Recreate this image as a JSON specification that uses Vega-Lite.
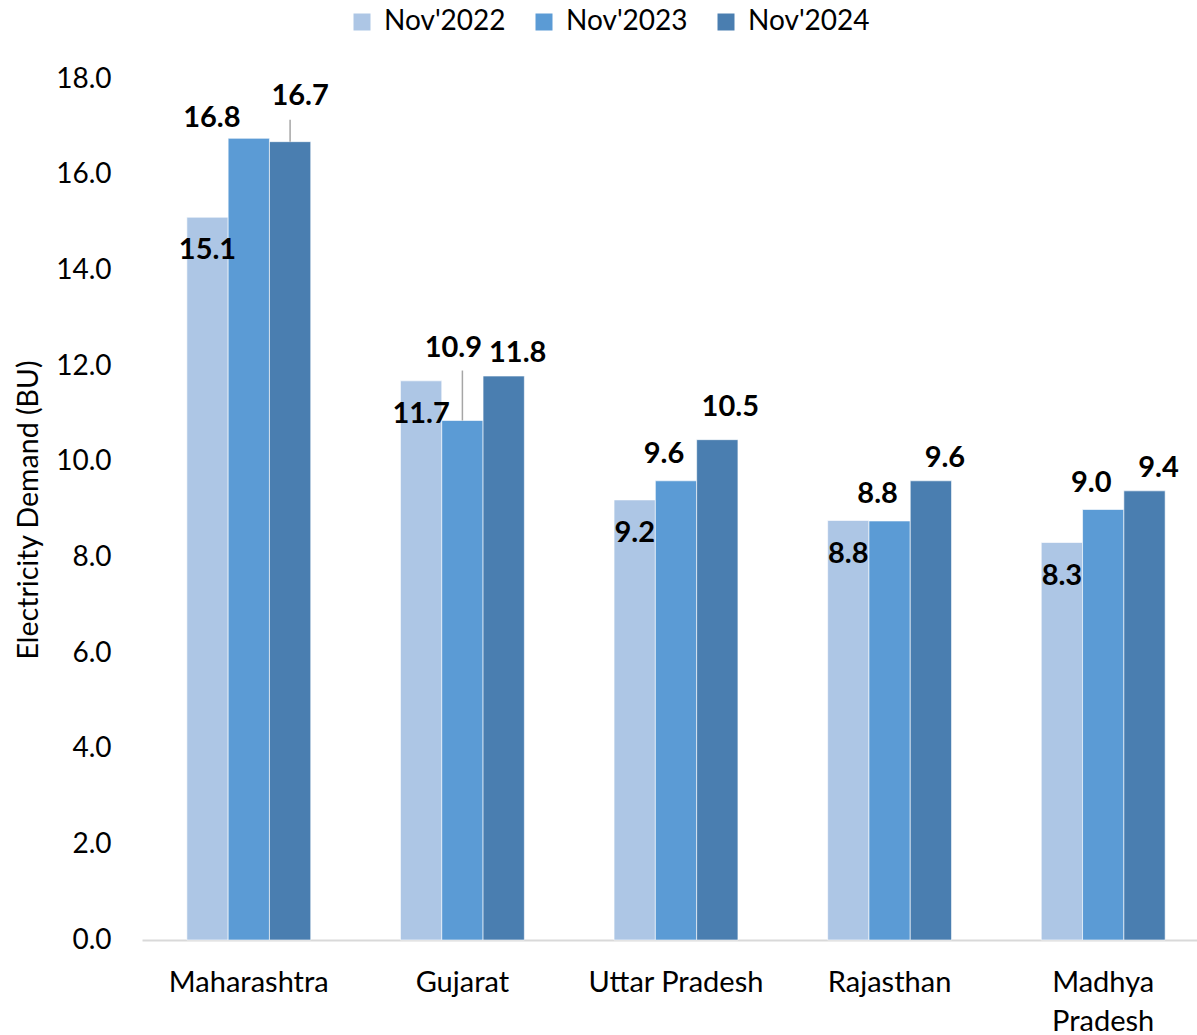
{
  "$schema": "https://vega.github.io/schema/vega-lite/v6.json",
  "autosize": "none",
  "width": 1068,
  "height": 861,
  "padding": {"left": 142, "top": 79, "right": 0, "bottom": 95},
  "background": "white",
  "config": {
    "view": {"stroke": null},
    "font": "Lato",
    "text": {"font": "Lato"}
  },
  "data": {
    "values": [
      {"state": "Maharashtra", "period": "Nov'2022", "demand": 15.11},
      {"state": "Maharashtra", "period": "Nov'2023", "demand": 16.76},
      {"state": "Maharashtra", "period": "Nov'2024", "demand": 16.69},
      {"state": "Gujarat", "period": "Nov'2022", "demand": 11.69},
      {"state": "Gujarat", "period": "Nov'2023", "demand": 10.86},
      {"state": "Gujarat", "period": "Nov'2024", "demand": 11.79},
      {"state": "Uttar Pradesh", "period": "Nov'2022", "demand": 9.2},
      {"state": "Uttar Pradesh", "period": "Nov'2023", "demand": 9.6},
      {"state": "Uttar Pradesh", "period": "Nov'2024", "demand": 10.46},
      {"state": "Rajasthan", "period": "Nov'2022", "demand": 8.77},
      {"state": "Rajasthan", "period": "Nov'2023", "demand": 8.76},
      {"state": "Rajasthan", "period": "Nov'2024", "demand": 9.6},
      {"state": "Madhya Pradesh", "period": "Nov'2022", "demand": 8.31},
      {"state": "Madhya Pradesh", "period": "Nov'2023", "demand": 9.0},
      {"state": "Madhya Pradesh", "period": "Nov'2024", "demand": 9.39}
    ]
  },
  "encoding": {
    "x": {
      "field": "state",
      "type": "nominal",
      "sort": null,
      "scale": {"paddingInner": 0.42, "paddingOuter": 0.21},
      "axis": {
        "title": null,
        "labelAngle": 0,
        "labelFont": "Lato",
        "labelFontSize": 29,
        "labelColor": "#000000",
        "labelPadding": 28,
        "labelLineHeight": 39,
        "labelExpr": "datum.label == 'Madhya Pradesh' ? ['Madhya', 'Pradesh'] : datum.label",
        "ticks": false,
        "domainColor": "#d9d9d9",
        "domainWidth": 2
      }
    },
    "xOffset": {"field": "period", "type": "nominal", "scale": {"paddingInner": 0, "paddingOuter": 0}},
    "y": {
      "field": "demand",
      "type": "quantitative",
      "scale": {"domain": [0, 18], "nice": false},
      "axis": {
        "title": "Electricity Demand (BU)",
        "titleFont": "Lato",
        "titleFontSize": 28.5,
        "titleFontWeight": "normal",
        "titleColor": "#000000",
        "titlePadding": 12,
        "values": [0, 2, 4, 6, 8, 10, 12, 14, 16, 18],
        "format": ".1f",
        "labelFont": "Lato",
        "labelFontSize": 28,
        "labelColor": "#000000",
        "labelPadding": 31,
        "ticks": false,
        "domain": false,
        "grid": false
      }
    }
  },
  "layer": [
    {
      "mark": {"type": "bar", "stroke": "#ffffff", "strokeWidth": 1, "strokeOpacity": 0.6},
      "encoding": {
        "color": {
          "field": "period",
          "type": "nominal",
          "scale": {"domain": ["Nov'2022", "Nov'2023", "Nov'2024"], "range": ["#adc6e5", "#5b9bd5", "#4a7eb0"]},
          "legend": {
            "title": null,
            "orient": "none",
            "direction": "horizontal",
            "legendX": 206,
            "legendY": -71,
            "symbolType": "square",
            "symbolSize": 289,
            "symbolStrokeWidth": 0,
            "labelFont": "Lato",
            "labelFontSize": 28,
            "labelColor": "#000000",
            "labelOffset": 8,
            "columnPadding": 24
          }
        }
      }
    },
    {
      "transform": [{"filter": "datum.state == 'Gujarat' && datum.period == \"Nov'2023\""}],
      "mark": {"type": "rule", "color": "#a6a6a6", "strokeWidth": 1.5, "y2Offset": -50},
      "encoding": {"y2": {"field": "demand"}}
    },
    {
      "transform": [{"filter": "datum.state == 'Maharashtra' && datum.period == \"Nov'2024\""}],
      "mark": {"type": "rule", "color": "#a6a6a6", "strokeWidth": 1.5, "y2Offset": -22},
      "encoding": {"y2": {"field": "demand"}}
    },
    {
      "transform": [{"filter": "datum.period == \"Nov'2022\""}],
      "mark": {"type": "text", "fontWeight": "bold", "fontSize": 29, "color": "#000000", "baseline": "middle", "align": "center", "dy": 33},
      "encoding": {"text": {"field": "demand", "type": "quantitative", "format": ".1f"}}
    },
    {
      "transform": [{"filter": "datum.period == \"Nov'2023\" && datum.state != 'Gujarat' && datum.state != 'Maharashtra'"}],
      "mark": {"type": "text", "fontWeight": "bold", "fontSize": 29, "color": "#000000", "baseline": "middle", "align": "center", "dx": -12, "dy": -27},
      "encoding": {"text": {"field": "demand", "type": "quantitative", "format": ".1f"}}
    },
    {
      "transform": [{"filter": "datum.period == \"Nov'2023\" && datum.state == 'Maharashtra'"}],
      "mark": {"type": "text", "fontWeight": "bold", "fontSize": 29, "color": "#000000", "baseline": "middle", "align": "center", "dx": -37, "dy": -20},
      "encoding": {"text": {"field": "demand", "type": "quantitative", "format": ".1f"}}
    },
    {
      "transform": [{"filter": "datum.period == \"Nov'2023\" && datum.state == 'Gujarat'"}],
      "mark": {"type": "text", "fontWeight": "bold", "fontSize": 29, "color": "#000000", "baseline": "middle", "align": "center", "dx": -9, "dy": -73},
      "encoding": {"text": {"field": "demand", "type": "quantitative", "format": ".1f"}}
    },
    {
      "transform": [{"filter": "datum.period == \"Nov'2024\" && datum.state != 'Maharashtra' && datum.state != 'Uttar Pradesh'"}],
      "mark": {"type": "text", "fontWeight": "bold", "fontSize": 29, "color": "#000000", "baseline": "middle", "align": "center", "dx": 14, "dy": -23},
      "encoding": {"text": {"field": "demand", "type": "quantitative", "format": ".1f"}}
    },
    {
      "transform": [{"filter": "datum.period == \"Nov'2024\" && datum.state == 'Maharashtra'"}],
      "mark": {"type": "text", "fontWeight": "bold", "fontSize": 29, "color": "#000000", "baseline": "middle", "align": "center", "dx": 10, "dy": -46},
      "encoding": {"text": {"field": "demand", "type": "quantitative", "format": ".1f"}}
    },
    {
      "transform": [{"filter": "datum.period == \"Nov'2024\" && datum.state == 'Uttar Pradesh'"}],
      "mark": {"type": "text", "fontWeight": "bold", "fontSize": 29, "color": "#000000", "baseline": "middle", "align": "center", "dx": 13, "dy": -33},
      "encoding": {"text": {"field": "demand", "type": "quantitative", "format": ".1f"}}
    }
  ]
}
